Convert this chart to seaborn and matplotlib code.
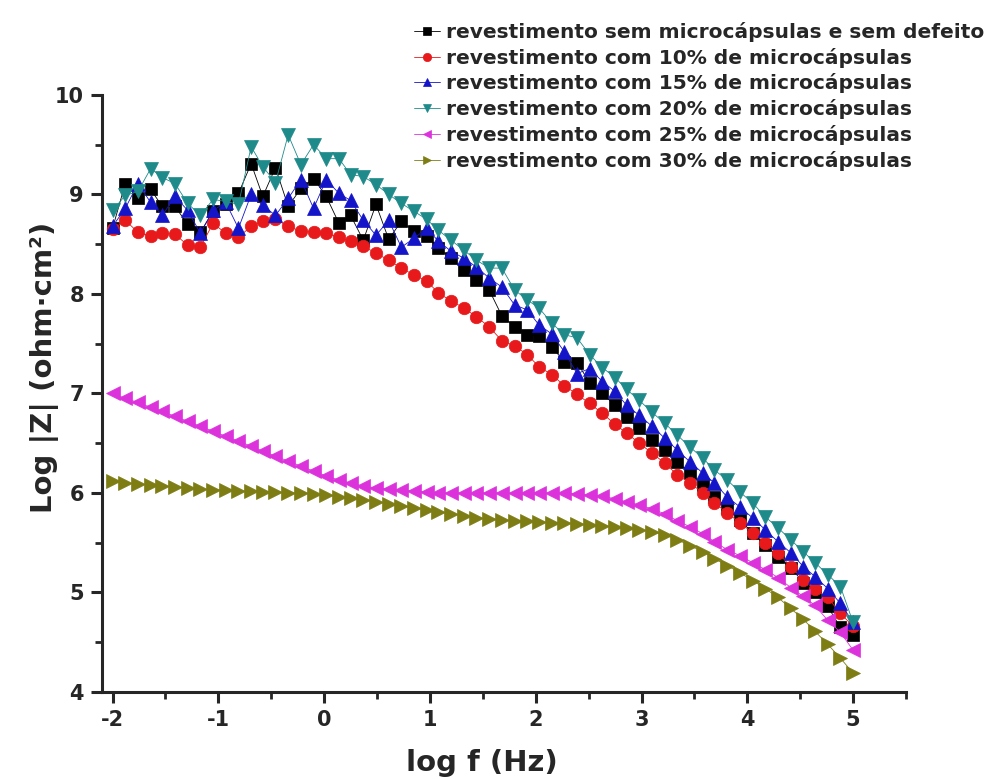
import matplotlib
matplotlib.use("Agg")
import matplotlib.pyplot as plt
import seaborn as sns
from matplotlib.ticker import MultipleLocator

#data
LOG_F = [-2.00, -1.88, -1.76, -1.64, -1.53, -1.41, -1.29, -1.17, -1.05, -0.93,
         -0.81, -0.69, -0.58, -0.46, -0.34, -0.22, -0.10, 0.02, 0.14, 0.25,
         0.37, 0.49, 0.61, 0.73, 0.85, 0.97, 1.08, 1.20, 1.32, 1.44,
         1.56, 1.68, 1.80, 1.92, 2.03, 2.15, 2.27, 2.39, 2.51, 2.63,
         2.75, 2.86, 2.98, 3.10, 3.22, 3.34, 3.46, 3.58, 3.69, 3.81,
         3.93, 4.05, 4.17, 4.29, 4.41, 4.53, 4.64, 4.76, 4.88, 5.00]

SEM_DEFEITO = [8.66, 9.11, 8.96, 9.05, 8.88, 8.88, 8.70, 8.62, 8.83, 8.90,
               9.01, 9.31, 8.98, 9.27, 8.88, 9.06, 9.16, 8.98, 8.71, 8.79,
               8.54, 8.90, 8.55, 8.73, 8.63, 8.58, 8.46, 8.36, 8.24, 8.14,
               8.04, 7.78, 7.67, 7.59, 7.58, 7.47, 7.32, 7.31, 7.11, 7.00,
               6.88, 6.76, 6.65, 6.53, 6.43, 6.31, 6.20, 6.08, 5.96, 5.85,
               5.73, 5.60, 5.48, 5.36, 5.25, 5.10, 5.00, 4.86, 4.65, 4.57]

MC_10 = [8.65, 8.74, 8.62, 8.58, 8.61, 8.60, 8.49, 8.47, 8.71, 8.61,
         8.57, 8.68, 8.73, 8.75, 8.68, 8.63, 8.62, 8.61, 8.57, 8.53,
         8.48, 8.41, 8.34, 8.26, 8.19, 8.13, 8.01, 7.93, 7.86, 7.77,
         7.67, 7.53, 7.48, 7.39, 7.27, 7.19, 7.08, 6.99, 6.90, 6.80,
         6.69, 6.60, 6.50, 6.40, 6.30, 6.18, 6.10, 6.00, 5.90, 5.80,
         5.70, 5.60, 5.50, 5.40, 5.26, 5.13, 5.03, 4.95, 4.79, 4.66]

MC_15 = [8.68, 8.86, 9.11, 8.92, 8.79, 8.98, 8.84, 8.61, 8.84, 8.92,
         8.66, 9.00, 8.89, 8.79, 8.96, 9.15, 8.86, 9.15, 9.01, 8.94,
         8.74, 8.59, 8.74, 8.47, 8.56, 8.66, 8.53, 8.43, 8.36, 8.27,
         8.16, 8.07, 7.89, 7.84, 7.69, 7.60, 7.42, 7.20, 7.25, 7.12,
         7.02, 6.88, 6.78, 6.67, 6.55, 6.43, 6.31, 6.20, 6.10, 5.96,
         5.86, 5.75, 5.63, 5.51, 5.40, 5.26, 5.16, 5.04, 4.89, 4.70]

MC_20 = [8.84, 8.99, 9.03, 9.26, 9.17, 9.11, 8.91, 8.79, 8.95, 8.93,
         8.90, 9.48, 9.28, 9.12, 9.60, 9.30, 9.50, 9.36, 9.36, 9.20,
         9.18, 9.10, 9.00, 8.91, 8.83, 8.75, 8.64, 8.54, 8.44, 8.34,
         8.26, 8.26, 8.04, 7.94, 7.86, 7.71, 7.59, 7.56, 7.39, 7.26,
         7.16, 7.04, 6.93, 6.81, 6.70, 6.58, 6.46, 6.35, 6.23, 6.13,
         6.01, 5.90, 5.76, 5.65, 5.53, 5.41, 5.30, 5.18, 5.06, 4.70]

MC_25 = [7.00, 6.95, 6.91, 6.86, 6.82, 6.77, 6.72, 6.67, 6.62, 6.57,
         6.52, 6.47, 6.42, 6.37, 6.32, 6.27, 6.22, 6.17, 6.13, 6.10,
         6.07, 6.05, 6.04, 6.03, 6.02, 6.01, 6.00, 6.00, 6.00, 6.00,
         6.00, 6.00, 6.00, 6.00, 6.00, 6.00, 6.00, 5.99, 5.98, 5.97,
         5.94, 5.91, 5.88, 5.84, 5.79, 5.72, 5.66, 5.59, 5.51, 5.43,
         5.37, 5.30, 5.23, 5.15, 5.05, 4.96, 4.87, 4.72, 4.60, 4.42]

MC_30 = [6.12, 6.10, 6.09, 6.08, 6.07, 6.06, 6.05, 6.04, 6.03, 6.03,
         6.02, 6.02, 6.01, 6.01, 6.00, 6.00, 5.99, 5.98, 5.96, 5.95,
         5.93, 5.91, 5.89, 5.87, 5.85, 5.83, 5.81, 5.79, 5.77, 5.75,
         5.74, 5.73, 5.72, 5.72, 5.71, 5.70, 5.70, 5.69, 5.68, 5.67,
         5.66, 5.65, 5.63, 5.61, 5.58, 5.53, 5.47, 5.41, 5.34, 5.27,
         5.20, 5.12, 5.04, 4.95, 4.84, 4.73, 4.61, 4.48, 4.34, 4.19]

LABELS = ["revestimento sem microcápsulas e sem defeito",
          "revestimento com 10% de microcápsulas",
          "revestimento com 15% de microcápsulas",
          "revestimento com 20% de microcápsulas",
          "revestimento com 25% de microcápsulas",
          "revestimento com 30% de microcápsulas"]

SERIES = [SEM_DEFEITO, MC_10, MC_15, MC_20, MC_25, MC_30]
COLORS = ["#000000", "#e8191b", "#1414c8", "#1e8a8a", "#dc32dc", "#7d7d14"]
MARKERS = ["s", "o", "^", "v", "<", ">"]
SIZES = [8, 9, 10, 10, 10, 10]

sns.set_style("ticks")
plt.rcParams['font.family'] = ['DejaVu Sans']
plt.rcParams['axes.unicode_minus'] = False

fig = plt.figure(figsize=(9.97, 7.79), dpi=100)
ax = fig.add_axes([0.1023, 0.1117, 0.8064, 0.7664])

handles = []
for y, lab, col, mk, ms in zip(SERIES, LABELS, COLORS, MARKERS, SIZES):
    sns.lineplot(x=LOG_F, y=y, ax=ax, color=col, marker=mk, markersize=ms,
                 markeredgecolor=col, markeredgewidth=0.5, linewidth=0.6,
                 label=lab, legend=False)
    handles.append(ax.lines[-1])

ax.set_xlim(-2.1, 5.5)
ax.set_ylim(4, 10)
ax.xaxis.set_major_locator(MultipleLocator(1))
ax.xaxis.set_minor_locator(MultipleLocator(0.5))
ax.yaxis.set_major_locator(MultipleLocator(1))
ax.yaxis.set_minor_locator(MultipleLocator(0.5))

sns.despine(ax=ax)
for side in ["left", "bottom"]:
    ax.spines[side].set_linewidth(2.2)
ax.tick_params(which="major", length=8, width=2.2, labelsize=15, pad=5)
ax.tick_params(which="minor", length=5, width=2.0)
for lbl in ax.get_xticklabels() + ax.get_yticklabels():
    lbl.set_fontweight("bold")

ax.set_xlabel("log f (Hz)", fontsize=21, fontweight="bold", va="center")
ax.set_ylabel("Log |Z| (ohm·cm²)", fontsize=21, fontweight="bold", va="center")
ax.xaxis.set_label_coords(0.473, -0.119)
ax.yaxis.set_label_coords(-0.071, 0.543)

leg = fig.legend(handles=handles, labels=LABELS, loc="upper left",
                 bbox_to_anchor=(0.415, 0.972), frameon=False,
                 prop={"size": 14.5, "weight": "bold"},
                 handlelength=1.3, handletextpad=0.3, labelspacing=0.29,
                 borderpad=0, borderaxespad=0)
for h in leg.legend_handles:
    h.set_markersize(6)

fig.savefig("out.png", dpi=100)
